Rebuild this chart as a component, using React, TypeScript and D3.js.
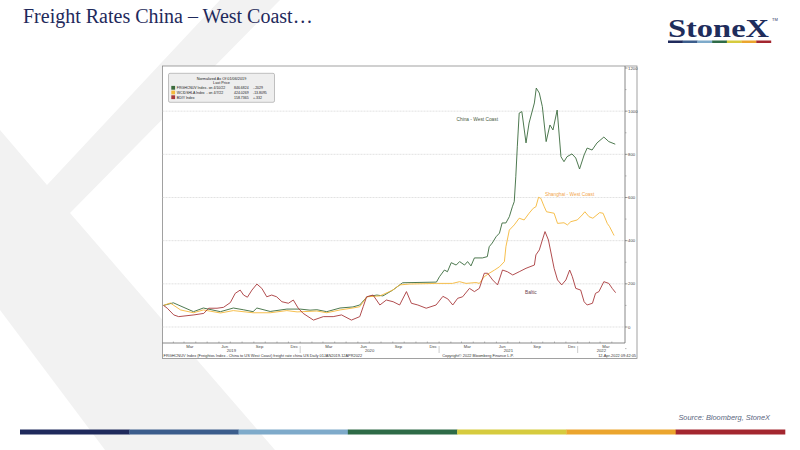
import * as d3 from "d3";
import React from "react";

// China - West Coast (FRGHCNUV), normalized to 100 on 01/06/2019
const chinaDates = [
	"2019-01-06", "2019-02-01", "2019-03-26", "2019-04-21", "2019-06-05", "2019-07-09",
	"2019-08-04", "2019-08-30", "2019-09-09", "2019-10-14", "2019-11-27", "2020-01-01",
	"2020-01-27", "2020-02-14", "2020-03-11", "2020-04-15", "2020-05-19", "2020-06-06",
	"2020-06-25", "2020-07-21", "2020-08-06", "2020-09-01", "2020-09-27", "2020-12-25",
	"2021-01-02", "2021-01-15", "2021-01-23", "2021-02-02", "2021-02-15", "2021-02-24",
	"2021-03-09", "2021-03-17", "2021-03-26", "2021-04-04", "2021-04-25", "2021-05-08",
	"2021-05-13", "2021-05-21", "2021-05-31", "2021-06-09", "2021-06-16", "2021-06-26",
	"2021-07-05", "2021-07-13", "2021-07-18", "2021-07-22", "2021-07-26", "2021-07-31",
	"2021-08-07", "2021-08-18", "2021-08-26", "2021-09-09", "2021-09-14", "2021-09-22",
	"2021-09-30", "2021-10-10", "2021-10-20", "2021-10-28", "2021-11-08", "2021-11-18",
	"2021-11-26", "2021-12-04", "2021-12-17", "2021-12-27", "2022-01-06", "2022-01-18",
	"2022-01-26", "2022-02-08", "2022-02-21", "2022-03-11", "2022-03-24", "2022-04-10",
];
const chinaValues = [
	100, 112, 71, 88, 71, 88,
	80, 71, 88, 72, 83, 83,
	78, 80, 71, 88, 93, 102,
	140, 148, 144, 171, 205, 208,
	233, 264, 256, 298, 287, 303,
	287, 303, 283, 320, 320, 326,
	372, 389, 418, 435, 482, 482,
	511, 557, 581, 696, 835, 991,
	998, 853, 945, 1038, 1107, 1084,
	1021, 859, 936, 913, 1005, 789,
	766, 789, 802, 783, 732, 797,
	829, 820, 853, 880, 859, 847,
];

// Shanghai - West Coast (WCIDSHLA)
const shanghaiDates = [
	"2019-01-06", "2019-01-24", "2019-02-20", "2019-03-26", "2019-04-21", "2019-06-05",
	"2019-07-09", "2019-08-30", "2019-10-14", "2019-11-27", "2019-12-24", "2020-02-14",
	"2020-03-11", "2020-04-15", "2020-05-19", "2020-06-06", "2020-06-25", "2020-07-29",
	"2020-09-01", "2020-09-19", "2020-10-15", "2020-12-25", "2021-02-05", "2021-02-24",
	"2021-03-13", "2021-04-08", "2021-04-17", "2021-04-30", "2021-05-13", "2021-05-27",
	"2021-06-09", "2021-06-22", "2021-06-26", "2021-07-05", "2021-07-18", "2021-07-31",
	"2021-08-13", "2021-08-26", "2021-09-06", "2021-09-13", "2021-09-20", "2021-09-26",
	"2021-10-05", "2021-10-11", "2021-10-31", "2021-11-09", "2021-11-26", "2021-12-05",
	"2021-12-14", "2021-12-31", "2022-01-13", "2022-01-20", "2022-01-31", "2022-02-10",
	"2022-02-28", "2022-03-09", "2022-03-20", "2022-03-26", "2022-04-04", "2022-04-07",
];
const shanghaiValues = [
	100, 111, 79, 66, 79, 65,
	76, 66, 66, 76, 70, 74,
	66, 79, 88, 94, 140, 144,
	171, 195, 199, 202, 202, 210,
	202, 206, 202, 233, 249, 264,
	279, 303, 372, 449, 473, 504,
	496, 527, 550, 557, 601, 596,
	557, 534, 527, 480, 483, 473,
	488, 496, 519, 534, 511, 504,
	530, 527, 480, 465, 434, 424,
];

// Baltic (BDIY)
const balticDates = [
	"2019-01-06", "2019-01-16", "2019-02-02", "2019-02-15", "2019-03-27", "2019-04-22",
	"2019-05-05", "2019-05-27", "2019-06-13", "2019-07-01", "2019-07-14", "2019-07-27",
	"2019-08-05", "2019-08-15", "2019-08-27", "2019-09-09", "2019-09-22", "2019-10-05",
	"2019-10-18", "2019-10-31", "2019-11-14", "2019-12-01", "2019-12-14", "2019-12-27",
	"2020-01-09", "2020-02-05", "2020-03-02", "2020-03-28", "2020-04-19", "2020-05-15",
	"2020-06-06", "2020-06-15", "2020-06-24", "2020-07-11", "2020-07-29", "2020-08-15",
	"2020-09-02", "2020-09-19", "2020-10-07", "2020-10-20", "2020-11-06", "2020-11-28",
	"2020-12-24", "2021-01-11", "2021-01-24", "2021-02-06", "2021-02-19", "2021-03-04",
	"2021-03-22", "2021-04-04", "2021-04-17", "2021-04-30", "2021-05-09", "2021-05-22",
	"2021-06-04", "2021-06-17", "2021-06-30", "2021-07-14", "2021-07-31", "2021-08-18",
	"2021-09-09", "2021-09-13", "2021-09-22", "2021-09-30", "2021-10-07", "2021-10-16",
	"2021-10-31", "2021-11-09", "2021-11-20", "2021-12-01", "2021-12-11", "2021-12-18",
	"2021-12-27", "2022-01-09", "2022-01-18", "2022-01-26", "2022-02-09", "2022-02-17",
	"2022-02-26", "2022-03-11", "2022-03-24", "2022-04-02", "2022-04-11",
];
const balticValues = [
	100, 87, 56, 48, 56, 63,
	87, 87, 91, 113, 156, 171,
	148, 138, 171, 199, 179, 140,
	148, 140, 117, 110, 125, 87,
	63, 32, 48, 48, 56, 32,
	48, 94, 140, 148, 102, 125,
	117, 102, 164, 110, 102, 87,
	102, 142, 130, 102, 133, 140,
	179, 164, 179, 249, 249, 218,
	195, 264, 256, 241, 256, 272,
	287, 334, 357, 403, 442, 403,
	272, 218, 195, 218, 264, 233,
	179, 171, 117, 102, 110, 156,
	164, 210, 202, 179, 159,
];

const yTicks = [0, 200, 400, 600, 800, 1000, 1200];
const yMinorTicks = [-100, 100, 300, 500, 700, 900, 1100];
const quarterMonths = ["Mar", "Jun", "Sep", "Dec"];
const yearLabels = ["2019", "2020", "2021", "2022"];

const legendTitle = ["Normalized As Of 01/06/2019", "Last Price"];
const legendNames = ["FRGHCNUV Index", "WCIDSHLA Index", "BDIY Index"];
const legendDates = ["- on 4/10/22", "- on 4/7/22", ""];
const legendLast = ["846.6824", "424.0269", "158.7365"];
const legendChange = ["-.2029", "-13.8095", "+.332"];

const brandColors = ["#1f2a5c", "#3b5d8c", "#7eaaca", "#2e6b47", "#d6cb3e", "#eba52e", "#a3262f"];
const seriesColors = ["#3a6a3c", "#f5b83a", "#a8393b"];

const parse = d3.timeParse("%Y-%m-%d");
const pairs = (ds: string[], vs: number[]) => ds.map((d, i) => [parse(d) as Date, vs[i]] as [Date, number]);

const plot = { left: 162.5, right: 625, top: 66, bottom: 343 };
const frame = { left: 162.5, right: 637, top: 66, bottom: 358.5 };
const chartFont = "'Liberation Sans', Arial, sans-serif";

const App = () => {
	const x = d3
		.scaleTime()
		.domain([parse("2019-01-06") as Date, parse("2022-04-12") as Date])
		.range([163.5, 616]);
	const y = d3.scaleLinear().domain([0, 1200]).range([327, 68]);

	const line = d3
		.line<[Date, number]>()
		.x((d) => x(d[0]))
		.y((d) => y(d[1]));

	const series = [
		pairs(chinaDates, chinaValues),
		pairs(shanghaiDates, shanghaiValues),
		pairs(balticDates, balticValues),
	];

	const months = d3.timeMonth.range(new Date(2019, 1, 1), new Date(2022, 4, 1));
	const quarterMarks = months
		.filter((m) => [2, 5, 8, 11].includes(m.getMonth()))
		.map((m) => {
			const next = d3.timeMonth.offset(m, 1);
			return { x: (x(m) + x(next)) / 2, label: quarterMonths[[2, 5, 8, 11].indexOf(m.getMonth())] };
		});
	const yearMarks = yearLabels.map((yr) => {
		const s = Math.max(x(new Date(+yr, 0, 1)), plot.left);
		const e = Math.min(x(new Date(+yr + 1, 0, 1)), plot.right);
		return { label: yr, x: (s + e) / 2, sep: x(new Date(+yr, 0, 1)) };
	});

	const segW = (785 - 20) / brandColors.length;
	const logoW = (771 - 668) / brandColors.length;

	return (
		<svg
			width={800}
			height={450}
			viewBox="0 0 800 450"
			style={{ position: "absolute", left: 0, top: 0, background: "#fff" }}
		>
			<rect width={800} height={450} fill="#fff" />
			{/* watermark */}
			<polygon
				points="0,130 47,185 220,0 280,0 70,213 275,450 105,450 0,310"
				fill="#f2f2f2"
			/>

			<text
				x={23}
				y={23}
				fontFamily="'Liberation Serif', 'Times New Roman', serif"
				fontSize={20}
				fill="#1f2a5c"
			>
				Freight Rates China – West Coast…
			</text>

			{/* logo */}
			<text
				x={668}
				y={37}
				fontFamily="'Liberation Serif', 'Times New Roman', serif"
				fontWeight="bold"
				fontSize={26}
				fill="#1f2d5c"
				textLength={101}
				lengthAdjust="spacingAndGlyphs"
			>
				StoneX
			</text>
			<text x={772} y={21} fontSize={4} fontFamily={chartFont} fill="#1f2d5c">
				TM
			</text>
			{brandColors.map((c, i) => (
				<rect key={c} x={668 + i * logoW} y={40.5} width={logoW + 0.2} height={2.5} fill={c} />
			))}

			{/* chart panel */}
			<rect
				x={frame.left}
				y={frame.top}
				width={frame.right - frame.left}
				height={frame.bottom - frame.top}
				fill="#fff"
				stroke="#8a8a8a"
				strokeWidth={0.8}
			/>

			{yTicks.slice(0, -1).map((t) => (
				<line
					key={t}
					x1={plot.left}
					x2={plot.right}
					y1={y(t)}
					y2={y(t)}
					stroke="#cfcfcf"
					strokeWidth={0.6}
					strokeDasharray="2,1"
				/>
			))}

			{/* right axis */}
			<line x1={plot.right} x2={plot.right} y1={plot.top} y2={plot.bottom} stroke="#6a6a6a" strokeWidth={0.8} />
			{yTicks.map((t) => (
				<g key={t}>
					<line x1={plot.right} x2={plot.right + 2.5} y1={y(t)} y2={y(t)} stroke="#555" strokeWidth={0.6} />
					<text
						x={plot.right + 3}
						y={y(t)}
						dy="0.35em"
						fontSize={4.3}
						fontFamily={chartFont}
						fill="#444"
					>
						{t}
					</text>
				</g>
			))}
			{yMinorTicks.map((t) => (
				<line key={t} x1={plot.right} x2={plot.right + 1.5} y1={y(t)} y2={y(t)} stroke="#777" strokeWidth={0.5} />
			))}

			{/* bottom axis */}
			<line x1={plot.left} x2={plot.right} y1={plot.bottom} y2={plot.bottom} stroke="#6a6a6a" strokeWidth={0.8} />
			{months.map((m) => (
				<line
					key={m.getTime()}
					x1={x(m)}
					x2={x(m)}
					y1={plot.bottom}
					y2={plot.bottom - 1.5}
					stroke="#777"
					strokeWidth={0.5}
				/>
			))}
			{quarterMarks.map((q) => (
				<text
					key={q.x}
					x={q.x}
					y={347.6}
					textAnchor="middle"
					fontSize={4.2}
					fontFamily={chartFont}
					fill="#444"
				>
					{q.label}
				</text>
			))}
			{yearMarks.map((yr) => (
				<g key={yr.label}>
					{yr.sep > plot.left && (
						<line x1={yr.sep} x2={yr.sep} y1={346} y2={353} stroke="#999" strokeWidth={0.5} />
					)}
					<text
						x={yr.x}
						y={352.4}
						textAnchor="middle"
						fontSize={4.2}
						fontFamily={chartFont}
						fill="#444"
					>
						{yr.label}
					</text>
				</g>
			))}

			{/* footer */}
			<text x={163.5} y={357.4} fontSize={3.9} fontFamily={chartFont} fill="#333">
				FRGHCNUV Index (Freightos Index - China to US West Coast) freight rate china US  Daily 01JAN2019-12APR2022
			</text>
			<text x={478} y={357.4} textAnchor="middle" fontSize={3.9} fontFamily={chartFont} fill="#333">
				Copyright© 2022 Bloomberg Finance L.P.
			</text>
			<text x={636} y={357.4} textAnchor="end" fontSize={3.9} fontFamily={chartFont} fill="#333">
				12-Apr-2022 09:42:05
			</text>

			{/* series */}
			{series.map((s, i) => (
				<path key={i} d={line(s) ?? ""} fill="none" stroke={seriesColors[i]} strokeWidth={0.9} strokeLinejoin="round" />
			))}

			<text x={456.5} y={121} fontSize={4.8} fontFamily={chartFont} fill="#4b5a3e">
				China - West Coast
			</text>
			<text x={545} y={196} fontSize={4.8} fontFamily={chartFont} fill="#f2a54a">
				Shanghai - West Coast
			</text>
			<text x={525} y={294} fontSize={4.8} fontFamily={chartFont} fill="#6a3d4c">
				Baltic
			</text>

			{/* legend */}
			<rect x={168.5} y={73.3} width={106} height={29} rx={1.5} fill="#eeeeee" stroke="#9a9a9a" strokeWidth={0.6} />
			{legendTitle.map((t, i) => (
				<text
					key={t}
					x={221.5}
					y={79.6 + i * 4.7}
					textAnchor="middle"
					fontSize={3.8}
					fontFamily={chartFont}
					fill="#222"
				>
					{t}
				</text>
			))}
			{legendNames.map((n, i) => {
				const ry = 89.2 + i * 4.7;
				return (
					<g key={n} fontSize={3.5} fontFamily={chartFont} fill="#222">
						<rect x={171.3} y={ry - 3.3} width={3.8} height={3.8} fill={seriesColors[i]} />
						<text x={176.8}  y={ry}>{n}</text>
						<text x={206.5} y={ry}>{legendDates[i]}</text>
						<text x={234} y={ry}>{legendLast[i]}</text>
						<text x={253} y={ry}>{legendChange[i]}</text>
					</g>
				);
			})}

			{/* source and brand bar */}
			<text
				x={770}
				y={420}
				textAnchor="end"
				fontSize={7.4}
				fontStyle="italic"
				fontFamily={chartFont}
				fill="#5a6680"
			>
				Source: Bloomberg, StoneX
			</text>
			{brandColors.map((c, i) => (
				<rect key={c} x={20 + i * segW} y={429.5} width={segW + 0.3} height={5} fill={c} />
			))}
		</svg>
	);
};

export default App;
